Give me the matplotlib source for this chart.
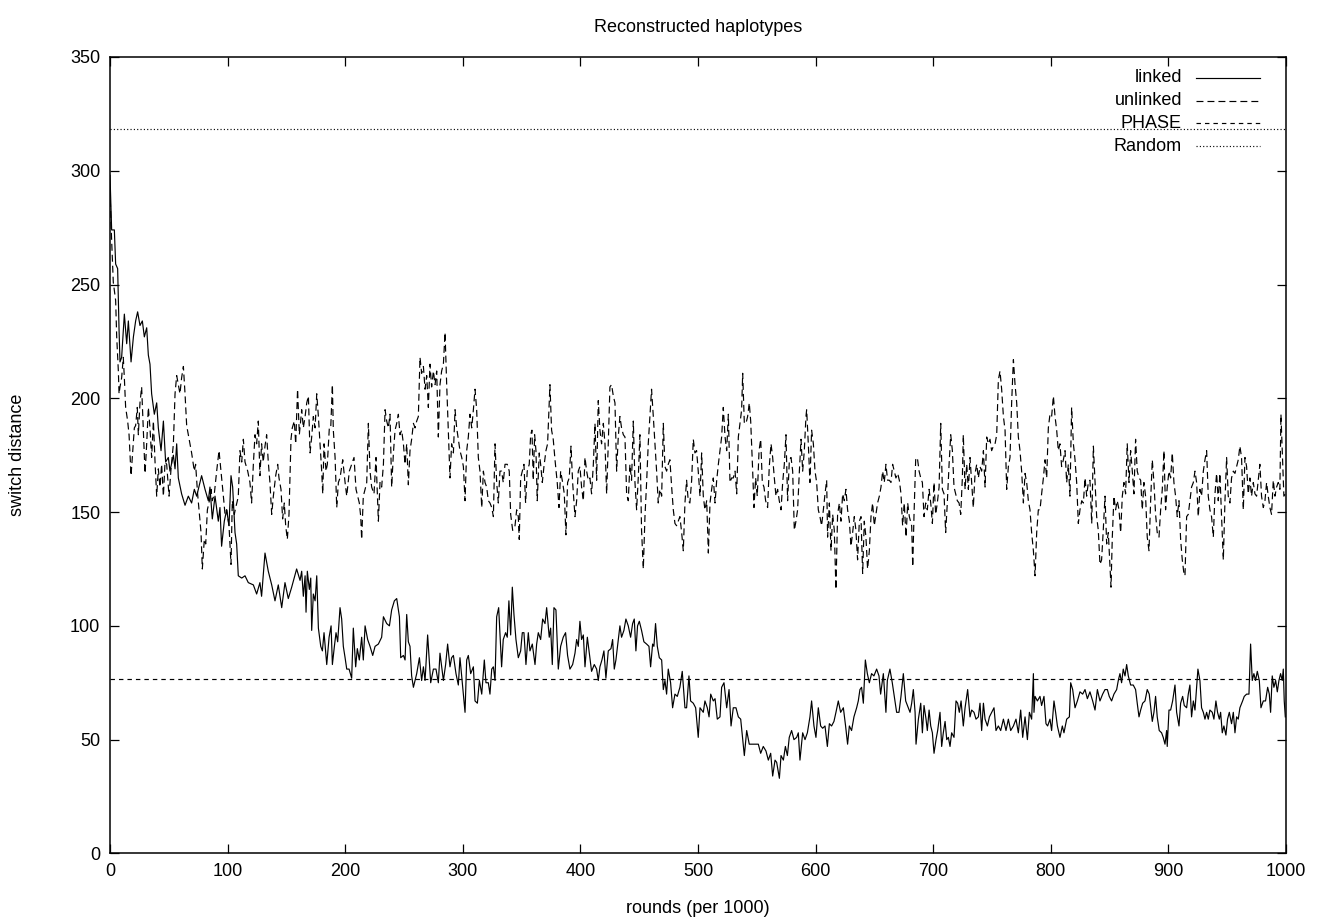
import matplotlib
matplotlib.use("Agg")
import matplotlib.pyplot as plt

plt.rcParams['font.family'] = ['Liberation Sans', 'DejaVu Sans']
plt.rcParams['lines.scale_dashes'] = False

############# DATOS ##################################
# switch distance vs rounds (per 1000), pares (ronda, distancia)
linked = [
    (0,298),(1.4,274),(3.7,274),(4.8,259),(6.5,257),(7.7,230),(8.5,216),(9.9,218),(12.2,237),(14.2,224),
    (15.6,234),(17.9,216),(19.9,227),(21.8,234),(23.5,238),(25.5,232),(27.5,234),(29.2,227),(31.2,231),(32.6,219),
    (34.0,215),(35.4,202),(37.7,193),(39.7,198),(41.1,187),(43.4,177),(45.4,190),(47.3,172),(49.6,174),(51.0,168),
    (53.9,175),(55.3,169),(56.7,180),(58.1,165),(60.9,158),(63.8,153),(66.6,157),(69.4,154),(71.7,160),(73.7,157),
    (76.5,163),(77.9,166),(80.8,160),(83.6,155),(85.0,161),(87.0,147),(89.3,157),(92.1,146),(93.5,152),(94.9,135),
    (97.2,146),(99.2,151),(101.2,144),(102.9,166),(104.3,161),(106.3,141),(107.7,136),(109.1,122),(112.0,121),(114.8,122),
    (117.6,119),(121.9,118),(124.7,114),(127.5,119),(128.9,113),(131.8,132),(134.6,124),(137.5,118),(140.3,111),(143.1,118),
    (146.0,108),(148.8,119),(151.6,112),(154.5,117),(158.7,125),
    (161.6,120),(163.0,124),(164.4,113),(165.9,122),(166.7,106),(167.8,124),(169.5,116),(170.7,121),(171.5,98),(172.9,114),
    (174.4,111),(175.8,122),(177.2,99),(179.2,91),(180.6,89),(182.0,97),(184.3,83),(186.3,95),(188.0,100),(189.1,83),
    (190.8,91),(192.2,97),(193.6,93),(195.6,108),(197.0,103),(198.4,91),(199.9,86),(201.3,81),(203.3,81),(205.5,77),
    (206.9,99),(208.9,82),(210.3,90),(212.0,85),(214.0,95),(215.4,85),(216.9,100),(219.1,94),(221.1,91),(223.4,87),
    (225.4,91),(228.2,92),(231.0,95),(232.5,104),(235.3,101),(237.6,100),(239.5,107),(241.8,111),(243.8,112),(246.1,104),
    (247.2,86),(249.5,87),(250.9,85),(252.3,105),(253.7,93),(255.1,91),(256.5,78),(258.0,73),(260.8,79),(263.1,86),
    (265.0,76),(266.5,82),(267.9,76),(270.1,96),(272.7,75),(275.0,81),(277.2,81),(279.2,75),(280.6,88),(283.5,76),
    (285.4,83),(287.1,92),(289.1,82),(290.5,86),(292.0,87),(294.2,79),(296.2,74),(297.6,86),(299.6,75),(301.9,62),
    (303.3,85),(304.7,87),(306.7,79),(309.0,82),(310.4,67),(312.4,66),(314.1,76),(316.1,70),(318.3,85),(319.7,75),
    (321.7,75),(323.1,70),(324.6,81),(326.0,82),(327.4,76),(328.8,104),(330.5,108),
    (333.0,82),(334.4,94),(336.4,97),(337.8,95),(339.2,111),(340.7,96),(342.1,117),(343.5,105),(345.2,94),(347.2,86),
    (349.2,89),(350.6,97),(352.0,97),(353.7,83),(355.7,97),(357.1,89),(359.1,92),(361.4,83),(362.8,92),(364.2,97),
    (366.2,94),(367.9,103),(369.9,101),(371.3,108),(373.5,95),(374.7,99),(376.1,83),(377.5,108),(379.2,107),(381.2,81),
    (383.2,91),(385.4,95),(387.4,97),(389.1,87),(391.1,81),(393.4,83),(395.4,88),(396.8,94),(398.2,91),(399.6,102),
    (401.0,94),(402.5,96),(403.9,82),(405.9,95),(407.6,88),(409.5,80),(411.8,83),(413.8,81),(415.2,76),(416.6,82),
    (418.3,85),(420.0,89),(421.7,77),(423.7,89),(426.0,90),(427.4,94),(428.8,81),(430.2,85),(432.2,94),(433.6,100),
    (435.0,95),(437.0,98),(438.7,103),(440.7,100),(442.7,95),(444.4,101),(445.8,103),(447.2,89),(448.6,100),(450.1,102),
    (452.0,98),(454.0,93),(456.3,92),(458.3,91),(459.7,82),(461.4,92),(462.5,91),(463.9,101),(465.4,91),(467.1,86),
    (469.1,85),(470.5,72),(471.9,76),(473.3,70),(474.7,81),(476.7,75),(478.4,64),(480.4,70),(482.4,69),(484.6,73),
    (486.6,80),(488.9,64),(490.3,64),(492.3,78),(493.7,67),(496.0,66),(498.0,64),(500.2,51),
    (501.7,64),(504.5,62),(505.9,67),(507.9,64),(509.4,60),(510.8,70),(513.0,67),(514.5,68),(516.4,59),(518.7,60),
    (520.1,73),(522.1,75),(524.4,64),(526.4,72),(528.1,56),(530.0,64),(532.3,64),(534.3,60),(536.3,59),(538.0,50),
    (539.4,43),(541.4,54),(543.6,48),(545.6,48),(548.5,48),(551.3,48),(553.3,44),(555.5,47),(557.8,45),(559.8,41),
    (561.8,44),(563.5,34),(565.5,41),(566.9,40),(569.2,33),(570.6,43),(572.6,41),(574.3,47),(576.0,43),(577.6,51),
    (579.6,54),(581.6,50),(583.9,51),(585.3,53),(586.7,41),(589.0,53),(591.0,50),(593.0,53),(595.2,60),(596.6,67),
    (598.6,56),(600.3,51),(602.3,64),(604.3,56),(606.0,55),(608.0,56),(610.0,47),(611.7,57),(613.6,56),(615.6,58),
    (617.3,62),(619.3,67),(621.3,62),(623.6,64),(625.5,56),(627.2,48),(628.7,56),(630.6,54),(632.6,60),(634.9,64),
    (636.3,67),(637.7,72),(639.1,73),(640.6,66),(642.3,85),(644.0,79),(645.7,75),(647.6,79),(649.6,78),(651.9,81),
    (653.9,78),(655.3,70),(657.6,79),(659.8,62),(661.0,76),(663.2,81),(665.2,75),(666.9,69),(668.9,62),(670.9,62),
    (672.6,69),(674.6,79),(676.6,67),(678.8,64),
    (680.3,62),(681.7,66),(683.1,72),(684.6,62),(685.4,48),(687.4,59),(689.4,66),(690.8,53),(692.2,65),(693.9,59),
    (695.0,54),(696.5,63),(697.9,56),(699.3,53),(700.7,44),(702.4,50),(703.8,54),(705.8,62),(707.2,47),(708.6,53),
    (710.1,58),(711.5,50),(712.9,51),(714.3,47),(715.7,53),(717.7,51),(719.4,67),(720.8,66),(722.2,62),(723.7,67),
    (725.6,56),(727.1,64),(729.3,72),(731.3,60),(732.7,63),(734.7,62),(736.4,59),(738.4,60),(739.8,66),(741.2,54),
    (742.7,66),(744.1,59),(746.1,56),(747.8,60),(749.7,62),(751.7,64),(753.4,54),(755.4,56),(757.4,54),(759.7,59),
    (761.9,54),(763.9,59),(765.9,54),(768.2,56),(770.4,59),(772.4,53),(774.4,63),(776.1,51),(778.1,60),(780.1,50),
    (781.8,62),(783.7,59),(785.2,79),(785.7,62),(786.6,69),(788.6,67),(790.8,69),(792.2,65),(794.2,69),(795.9,57),
    (797.3,56),(799.3,59),(800.7,54),(802.7,67),(804.1,62),(805.6,56),(807.8,51),(809.8,56),(811.2,53),(813.5,59),
    (815.8,60),(816.9,75),(818.6,72),(820.6,64),(822.6,67),(824.8,71),(827.1,70),(829.1,72),(831.1,68),(833.3,71),
    (835.6,67),(837.6,63),(839.6,72),(841.8,67),(844.1,70),(846.1,72),(848.1,72),
    (849.7,69),(851.7,67),(853.7,70),(856.0,72),(857.4,76),(858.8,79),(860.2,75),(861.6,81),(863.1,78),(864.5,83),
    (865.9,78),(867.9,74),(870.1,74),(872.1,72),(873.5,66),(875.0,60),(876.4,63),(878.1,66),(880.1,67),(882.0,72),
    (883.7,70),(885.2,63),(886.3,58),(887.7,62),(889.1,69),(890.5,60),(892.2,54),(894.2,53),(895.6,51),(897.1,48),
    (898.5,54),(899.0,47),(900.5,63),(901.9,63),(903.6,67),(905.6,74),(907.0,62),(909.0,56),(910.4,66),(912.1,69),
    (913.5,65),(915.5,64),(916.9,70),(918.3,74),(919.7,60),(921.2,67),(922.6,63),(924.0,73),(925.1,81),(926.8,76),
    (928.2,64),(929.7,62),(931.1,59),(932.5,62),(933.9,59),(935.3,63),(937.3,62),(938.7,59),(940.4,67),(941.8,62),
    (943.3,59),(944.4,62),(945.8,53),(947.2,56),(948.9,52),(950.3,59),(951.8,62),(953.7,57),(955.2,62),(956.6,53),
    (958.0,60),(959.4,59),(960.8,64),(963.1,67),(964.5,69),(966.5,70),(968.5,70),(969.9,92),(971.3,76),(972.7,79),
    (974.1,76),(975.6,80),(977.3,76),(978.7,64),(980.7,67),(982.6,67),(984.4,73),(985.8,70),(986.9,62),(988.3,78),
    (989.7,73),(991.2,76),(992.6,71),(994.0,76),(995.4,79),(996.8,76),(997.7,81),(998.5,67),(999.4,60),
]

unlinked = [
    (0,292),(0.9,276),(2.8,251),(4.8,243),(5.7,227),(7.1,212),(7.7,202),(8.5,205),(9.9,209),(11.3,218),
    (12.2,209),(13.3,196),(15.0,190),(16.2,184),(17.9,166),(19.0,174),(20.7,187),(21.8,188),(23.2,196),(24.1,184),
    (25.5,198),(26.9,205),(28.3,187),(29.8,167),(31.2,180),(32.6,196),(34.0,187),(35.4,174),(36.9,190),(38.3,172),
    (39.7,157),(41.1,169),(42.5,161),(43.9,171),(45.4,157),(46.8,172),(48.2,171),(50.2,157),(51.9,169),(53.9,180),
    (55.3,202),(56.7,210),(58.1,206),(59.5,202),(60.9,209),(62.4,214),(63.8,202),(65.2,188),(66.6,184),(68.0,180),
    (69.4,176),(71.7,168),(72.8,171),(74.5,158),(76.0,149),(77.4,141),(78.5,125),(80.2,138),(81.4,136),(82.8,151),
    (84.5,155),(85.9,160),(87.0,155),(88.7,158),(90.7,168),(92.7,177),(94.4,168),(96.4,157),(97.8,149),(99.2,151),
    (101.2,144),(102.9,127),(104.0,155),(105.7,149),(106.9,152),(108.3,155),(109.1,157),(110.5,177),(112.0,172),(113.4,182),
    (114.8,172),(117.1,168),(119.0,163),(120.4,154),(121.9,171),(123.3,184),(124.7,180),(126.1,190),(127.5,166),(128.9,180),
    (130.3,172),(131.8,179),(133.2,184),(134.6,172),(136.0,163),(137.5,149),(138.9,157),(140.9,166),(142.6,171),(143.7,165),
    (145.4,160),(146.8,147),(148.2,154),(149.4,144),(150.8,138),(152.2,149),(153.9,182),(155.0,187),(156.7,190),(157.9,180),
    (159.5,204),(161.0,184),
    (163.0,195),(164.4,187),(165.9,192),(167.3,198),(168.7,201),(170.1,176),(171.5,183),(172.9,192),(174.4,187),(175.8,202),
    (177.2,192),(178.6,180),(180.0,168),(180.9,158),(182.0,180),(183.7,168),(184.8,171),(186.5,187),(187.7,187),(189.1,206),
    (189.9,186),(191.4,174),(192.8,152),(194.2,163),(195.6,165),(197.9,173),(199.9,163),(201.3,157),(203.5,168),(205.5,171),
    (207.5,174),(209.2,160),(210.6,157),(212.0,154),(213.2,148),(214.0,138),(215.4,157),(216.9,160),(218.3,163),(219.7,189),
    (221.1,168),(222.5,161),(224.5,158),(226.2,174),(228.2,146),(229.6,163),(231.0,161),(232.5,171),(233.9,195),(235.3,190),
    (236.7,187),(238.1,193),(239.5,161),(241.0,176),(242.4,186),(243.8,189),(245.2,193),(246.6,184),(248.0,186),(249.5,180),
    (250.9,171),(252.3,180),(253.7,162),(255.1,177),(256.5,182),(258.0,189),(259.4,187),(260.8,190),(262.2,192),(263.6,218),
    (265.0,211),(266.5,214),(267.9,204),(269.3,210),(270.7,196),(272.1,215),(273.5,205),(275.0,212),(276.4,206),(277.8,212),
    (279.2,183),(280.6,206),(282.0,212),(283.5,215),(284.9,229),(286.3,206),(287.7,186),(289.1,165),(290.5,180),(292.0,176),
    (293.4,195),(294.8,187),(296.2,182),(297.6,177),(299.1,174),(300.5,170),(301.9,155),(303.3,177),(304.7,183),(306.1,193),
    (307.6,187),(309.0,195),(310.4,204),(311.8,195),(313.2,174),(314.6,168),(316.1,152),(317.5,168),(318.9,163),(320.3,161),
    (321.7,155),(323.1,154),(324.6,152),(326.0,148),(327.4,180),(328.8,163),(330.2,154),(331.6,168),
    (333.0,168),(334.4,163),(335.9,171),(337.8,171),(339.5,168),(340.7,149),(342.4,142),(344.4,144),(345.8,151),(347.2,148),
    (348.0,138),(349.2,165),(350.6,168),(352.0,171),(353.4,154),(354.8,168),(356.5,171),(357.7,184),(358.8,186),(359.9,164),
    (361.1,184),(362.2,177),(363.3,155),(365.0,176),(366.2,171),(367.6,163),(369.0,170),(370.7,177),(372.1,180),(374.1,206),
    (375.5,186),(376.9,182),(378.4,173),(380.3,163),(381.8,152),(383.2,168),(384.9,163),(386.3,158),(387.7,140),(389.1,163),
    (390.5,165),(392.0,179),(393.4,163),(395.4,148),(396.8,155),(398.2,168),(399.6,170),(401.0,161),(402.5,155),(403.9,174),
    (405.3,168),(406.7,164),(408.1,165),(409.5,158),(411.0,171),(412.4,189),(413.8,164),(415.2,199),(416.6,186),(418.0,180),
    (419.5,189),(420.9,180),(422.3,158),(423.7,180),(425.1,205),(426.5,206),(428.0,201),(429.4,198),(430.8,168),(432.2,183),
    (433.6,192),(435.0,187),(436.5,184),(437.9,183),(439.3,158),(440.7,155),(442.1,171),(443.5,164),(445.0,190),(446.4,163),
    (447.8,151),(449.2,165),(450.6,184),(452.0,142),(453.5,125),(454.9,148),(456.3,163),(457.7,180),(459.1,192),(460.5,204),
    (462.0,192),(463.4,180),(464.8,168),(466.2,154),(467.6,160),(469.1,157),(470.5,189),(471.9,170),(473.3,168),(474.7,171),
    (476.1,173),(477.6,161),(479.0,151),(480.4,145),(481.8,144),(483.2,146),(484.6,148),(486.1,141),(487.5,133),(488.9,154),
    (490.3,164),(491.7,155),(493.1,154),(494.6,164),(496.0,182),(497.4,176),(498.8,177),(500.2,168),(501.7,157),
    (503.1,176),(504.5,157),(505.9,151),(507.4,155),(508.8,132),(510.2,154),(511.6,160),(513.0,165),(514.5,154),(515.9,164),
    (517.3,171),(518.7,177),(520.1,183),(521.5,196),(523.0,183),(524.4,177),(525.8,193),(527.2,163),(528.6,165),(530.0,165),
    (531.5,168),(532.9,158),(534.3,183),(535.7,189),(537.1,195),(538.0,211),(539.4,189),(540.8,189),(542.2,192),(543.6,198),
    (544.8,190),(546.5,168),(547.6,152),(549.0,165),(550.4,157),(551.9,177),(553.3,182),(554.7,163),(556.1,161),(557.5,155),
    (559.2,152),(560.6,170),(562.1,180),(563.5,174),(564.9,165),(566.3,157),(567.7,160),(569.1,155),(570.6,151),(572.0,163),
    (573.4,171),(574.8,184),(576.2,155),(577.7,173),(579.1,174),(580.5,168),(581.9,142),(583.3,146),(584.7,151),(586.2,168),
    (587.6,182),(589.0,168),(590.4,177),(591.8,192),(592.4,195),(593.8,180),(595.2,163),(596.6,186),(598.1,180),(599.5,168),
    (600.9,163),(602.3,151),(603.7,148),(605.1,144),(606.6,151),(608.0,158),(609.4,164),(610.2,139),(611.7,154),(613.1,133),
    (614.5,149),(615.9,142),(617.3,116),(618.7,149),(620.2,154),(621.6,146),(623.0,158),(624.4,155),(625.8,160),(627.2,151),
    (628.7,146),(630.1,135),(631.5,141),(632.9,148),(634.3,142),(635.7,129),(637.2,146),(638.6,148),(640.0,123),(641.4,146),
    (642.8,139),(644.2,125),(645.7,133),(647.1,148),(648.5,154),(649.9,144),(651.3,149),(652.7,154),(654.2,157),(655.6,161),
    (657.0,168),(658.4,163),(659.8,171),(661.2,164),(662.7,164),(664.1,163),(665.5,171),(666.9,168),(668.3,165),(669.8,167),
    (671.2,164),(672.6,158),(674.0,144),(675.4,154),(676.9,139),(678.3,154),(679.7,148),
    (681.7,144),(682.6,126),(683.7,149),(685.1,173),(686.5,174),(688.0,168),(689.4,165),(690.8,163),(692.2,148),(693.6,154),
    (695.0,151),(696.5,160),(697.9,154),(699.3,145),(700.7,163),(702.1,149),(703.5,154),(705.0,161),(706.4,189),(707.8,160),
    (709.2,158),(710.6,141),(712.0,154),(713.5,171),(714.9,184),(716.3,177),(717.7,161),(719.1,158),(720.5,155),(722.0,154),
    (723.4,149),(724.8,165),(725.6,184),(727.1,160),(728.5,171),(729.9,160),(731.3,174),(732.7,163),(734.1,152),(735.6,167),
    (737.0,171),(738.4,165),(739.8,170),(741.2,168),(742.7,177),(744.1,161),(745.5,183),(746.9,180),(748.3,182),(749.7,177),
    (751.2,179),(752.6,180),(754.0,184),(755.4,208),(756.8,212),(758.2,204),(759.7,192),(761.1,186),(762.5,160),(763.9,170),
    (765.3,174),(766.7,198),(768.2,217),(769.6,206),(771.0,198),(772.4,183),(773.8,177),(775.2,168),(776.7,154),(778.1,167),
    (779.5,163),(780.9,155),(782.3,151),(783.7,141),(785.2,133),(786.6,122),(788.0,141),(789.4,151),(790.8,151),(792.2,158),
    (793.7,165),(795.1,173),(796.5,165),(797.9,187),(799.3,193),(800.7,192),(802.2,201),(803.6,192),(805.0,186),(806.4,177),
    (807.8,180),(809.2,170),(810.7,173),(812.1,177),(813.5,163),(814.9,171),(816.3,157),(817.7,196),(819.2,180),(820.6,173),
    (822.0,163),(823.4,145),(824.8,151),(826.3,155),(827.7,154),(829.1,165),(830.5,157),(831.9,163),(833.3,164),(834.8,145),
    (836.2,179),(837.6,163),(839.0,148),(840.4,142),(841.8,127),
    (843.2,129),(844.6,142),(846.1,157),(847.5,136),(848.9,141),(850.3,126),(851.2,117),(852.3,139),(853.7,157),(855.1,151),
    (856.5,155),(858.0,151),(859.4,141),(860.8,157),(862.2,163),(863.6,158),(865.0,180),(866.5,163),(867.9,177),(869.3,168),
    (870.7,158),(872.1,182),(873.5,168),(875.0,165),(876.4,164),(877.8,151),(879.2,163),(880.6,157),(882.0,139),(883.5,133),
    (884.9,155),(886.3,173),(887.7,163),(889.1,149),(890.5,141),(892.0,139),(893.4,151),(894.8,160),(896.2,177),(897.6,151),
    (899.0,161),(900.5,168),(901.9,165),(903.3,176),(904.7,163),(906.1,157),(907.5,148),(909.0,155),(910.4,138),(911.8,129),
    (913.2,123),(914.1,122),(915.5,148),(916.9,149),(918.3,155),(919.7,161),(921.2,163),(922.6,168),(924.0,163),(925.4,148),
    (926.8,160),(928.2,157),(929.7,168),(931.1,173),(932.5,177),(933.9,157),(935.3,151),(936.7,148),(938.2,139),(939.6,158),
    (941.0,167),(942.4,155),(943.8,167),(945.2,148),(946.7,129),(948.1,155),(949.5,174),(950.9,157),(952.3,154),(953.7,165),
    (955.2,168),(956.6,167),(958.0,170),(959.4,173),(960.8,179),(962.2,174),(963.7,151),(965.1,174),(966.5,170),(967.9,158),
    (969.3,165),(970.7,157),(972.2,163),(973.6,158),(975.0,157),(976.4,164),(977.8,171),(979.2,157),(980.7,152),(982.1,155),
    (983.5,163),(984.9,157),(986.3,152),(987.7,149),(989.2,164),(990.6,157),(992.0,161),(993.4,163),(994.8,160),(995.7,193),
    (997.1,173),(998.2,157),(999.4,158),
]

phase = 76.5
random_sd = 318.5

#################################################

W, H = 1317, 921
fig = plt.figure(figsize=(W/100, H/100), dpi=100)
ax = fig.add_axes([110/W, 1-853.4/H, 1176/W, 796.4/H])

lw = 0.85
ax.plot([p[0] for p in linked], [p[1] for p in linked], color='black', lw=lw, ls='-')
ax.plot([p[0] for p in unlinked], [p[1] for p in unlinked], color='black', lw=lw, ls=(0, (5, 2.9)))
ax.axhline(phase, color='black', lw=lw, ls=(0, (3.2, 2.9)))
ax.axhline(random_sd, color='black', lw=lw, ls=(0, (0.8, 1.6)))

ax.set_xlim(0, 1000)
ax.set_ylim(0, 350)
ax.set_xticks(range(0, 1001, 100))
ax.set_yticks(range(0, 351, 50))
ax.tick_params(direction='in', length=6.5, width=0.9, top=True, right=True,
               labelsize=13, pad=7, colors='black')
for s in ax.spines.values():
    s.set_linewidth(1.1)

############# titulos ###########################
fig.text(698/W, 1-28/H, 'Reconstructed haplotypes', ha='center', va='center', fontsize=13)
fig.text(698/W, 1-908/H, 'rounds (per 1000)', ha='center', va='center', fontsize=13)
fig.text(18/W, 1-455/H, 'switch distance', ha='center', va='center', rotation=90, fontsize=13)

############# leyenda a mano (estilo gnuplot) ###
nombres = ['linked', 'unlinked', 'PHASE', 'Random']
estilos = ['-', (0, (5, 2.9)), (0, (3.2, 2.9)), (0, (0.8, 1.6))]
def fx(px):
    return (px - 110)/1176
def fy(py):
    return (853.4 - py)/796.4
for i, (nom, est) in enumerate(zip(nombres, estilos)):
    y = fy(78 + 22.7*i)
    ax.text(fx(1182), y, nom, transform=ax.transAxes, ha='right', va='center', fontsize=13)
    ax.plot([fx(1196), fx(1260)], [y, y], transform=ax.transAxes, color='black', lw=lw, ls=est)

plt.savefig('out.png', dpi=100)
